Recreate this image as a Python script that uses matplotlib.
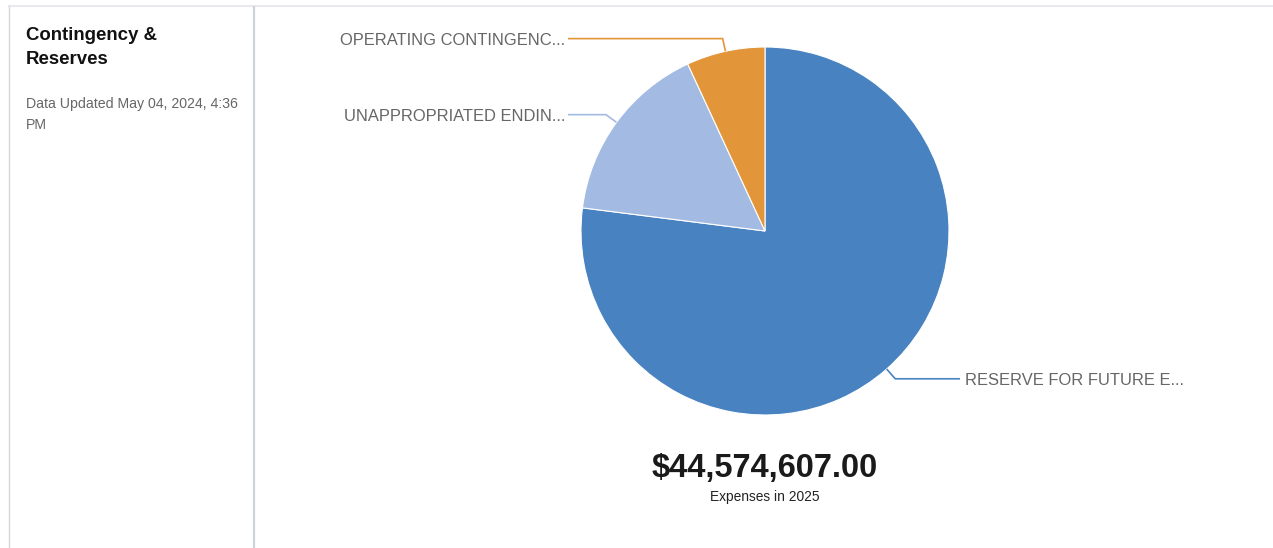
import math
import matplotlib
matplotlib.use("Agg")
import matplotlib.pyplot as plt

plt.rcParams["font.family"] = ["Liberation Sans", "DejaVu Sans"]

# Reserve categories and amounts (USD)
categories = [
    "RESERVE FOR FUTURE EXPENDITURES",
    "UNAPPROPRIATED ENDING FUND BALANCE",
    "OPERATING CONTINGENCY",
]
short_labels = ["RESERVE FOR FUTURE E...", "UNAPPROPRIATED ENDIN...", "OPERATING CONTINGENC..."]
amounts = [34325000.00, 7175000.00, 3074607.00]
colors = ["#4882c0", "#a3bbe3", "#e3953a"]

title_lines = ["Contingency &", "Reserves"]
updated_lines = ["Data Updated May 04, 2024, 4:36", "PM"]
caption = "Expenses in 2025"

W, H = 1273, 548
fig = plt.figure(figsize=(W / 100, H / 100), dpi=100)
ax = fig.add_axes([0, 0, 1, 1])


def Y(y):
    # top-down pixel row -> data y
    return H - y


# pie geometry
cx, cy, r = 765, Y(231), 184
wedges, _ = ax.pie(
    amounts,
    colors=colors,
    startangle=90,
    counterclock=False,
    center=(cx, cy),
    radius=r,
    wedgeprops=dict(edgecolor="white", linewidth=0.8),
)

ax.set_xlim(0, W)
ax.set_ylim(0, H)
ax.set_aspect("auto")
ax.axis("off")

# leader lines and labels
total = sum(amounts)
cum = 0.0
for lab, val, col in zip(short_labels, amounts, colors):
    mid = cum + val / 2
    cum += val
    theta = math.radians(90 - 360 * mid / total)
    x1, y1 = cx + r * math.cos(theta), cy + r * math.sin(theta)
    x2, y2 = cx + (r + 13) * math.cos(theta), cy + (r + 13) * math.sin(theta)
    if math.cos(theta) >= 0:
        x3 = 960
        tx, ha = 965, "left"
    else:
        x3 = 568
        tx, ha = 565, "right"
    ax.plot([x1, x2, x3], [y1, y2, y2], color=col, lw=1.2,
            solid_joinstyle="miter", solid_capstyle="butt")
    ax.text(tx, y2, lab, ha=ha, va="center_baseline", fontsize=11.9,
            color="#666666")

# total and caption
ax.text(cx, Y(468), "${:,.2f}".format(total), ha="center", va="center",
        fontsize=23.5, fontweight="bold", color="#1a1a1a")
ax.text(cx, Y(497), caption, ha="center", va="center", fontsize=9.9,
        color="#222222")

# side panel text
ax.text(26, Y(35), title_lines[0], ha="left", va="center", fontsize=13.4,
        fontweight="bold", color="#111111")
ax.text(26, Y(59), title_lines[1], ha="left", va="center", fontsize=13.4,
        fontweight="bold", color="#111111")
ax.text(26, Y(104), updated_lines[0], ha="left", va="center", fontsize=10.2,
        color="#666666")
ax.text(26, Y(125), updated_lines[1], ha="left", va="center", fontsize=10.2,
        color="#666666")

# panel borders
ax.plot([8, W], [Y(5.5), Y(5.5)], color="#e8e8ef", lw=1.5, solid_capstyle="butt")
ax.plot([8.5, 8.5], [Y(6), 0], color="#d3d6db", lw=1.0, solid_capstyle="butt")
ax.plot([254, 254], [Y(6), 0], color="#cfd3d8", lw=1.6, solid_capstyle="butt")

fig.savefig("out.png", dpi=100, facecolor="white")
